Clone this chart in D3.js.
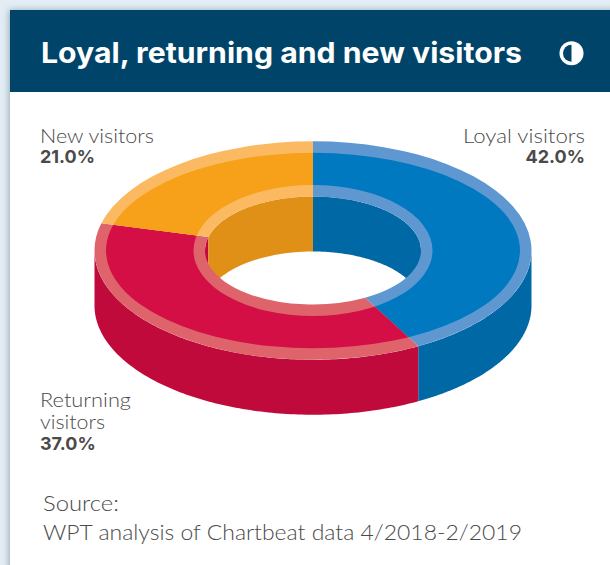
<!DOCTYPE html>
<html><head><meta charset="utf-8">
<script src="https://cdn.jsdelivr.net/npm/d3@7"></script>
<style>
html,body{margin:0;padding:0;background:#e3edf3;overflow:hidden}
svg{display:block}
text{font-family:"Inter","Lato",sans-serif}
.lt{font-family:"Lato","Inter",sans-serif;font-weight:300}
</style></head><body>
<svg id="c" width="610" height="565"></svg>
<script>
const categories = ["Loyal visitors", "Returning visitors", "New visitors"];
const shares = [42.0, 37.0, 21.0];
const topColors = ["#0079c1", "#d30f46", "#f7a11a"];
const wallColors = ["#0069a5", "#bf0a3b", "#e09016"];
const rimColors = ["#5f98d1", "#de636b", "#fbba62"];
const titleText = "Loyal, returning and new visitors";
const sourceLines = ["Source:", "WPT analysis of Chartbeat data 4/2018-2/2019"];

const svg = d3.select("#c");
const defs = svg.append("defs");
const f = defs.append("filter").attr("id","sh").attr("x","-5%").attr("y","-5%").attr("width","110%").attr("height","110%");
f.append("feDropShadow").attr("dx",-1).attr("dy",0).attr("stdDeviation",3).attr("flood-color","#5f7d90").attr("flood-opacity",0.6);

svg.append("rect").attr("x",10).attr("y",10).attr("width",640).attr("height",600).attr("fill","#fff").attr("filter","url(#sh)");
svg.append("rect").attr("x",10).attr("y",10).attr("width",600).attr("height",82).attr("fill","#004569");
svg.append("text").attr("x",41).attr("y",63).attr("fill","#fff").attr("font-size",29).attr("font-weight",700).attr("textLength",481).attr("lengthAdjust","spacingAndGlyphs").text(titleText);

// contrast icon
const icon = svg.append("g").attr("transform","translate(571.5,53.3)");
icon.append("circle").attr("r",12).attr("fill","#fff");
icon.append("path").attr("d",d3.arc()({innerRadius:0,outerRadius:8.5,startAngle:Math.PI,endAngle:2*Math.PI})).attr("fill","#004569");

// geometry of the 3D ring
const cx = 313, cy = 250.5, depth = 55;
const outerR = 218.5, holeR = 108, squash = 0.5;
const rim = 11.5;
const pie = d3.pie().sort(null).value(d=>d)(shares);

const sampleAngles = (a,b) => d3.range(0,121).map(i=>a+(b-a)*i/120);
const wall = (r) => d3.area()
  .x(t=>cx+r*Math.sin(t))
  .y0(t=>cy-r*squash*Math.cos(t))
  .y1(t=>cy-r*squash*Math.cos(t)+depth);

const chart = svg.append("g");
const clamp = (d,lo,hi)=>[Math.max(d.startAngle,lo),Math.min(d.endAngle,hi)];

// outer wall: front half
pie.forEach((d,i)=>{
  const [a,b]=clamp(d,Math.PI/2,3*Math.PI/2);
  if(b>a) chart.append("path").attr("d",wall(outerR)(sampleAngles(a,b))).attr("fill",wallColors[i]);
});
// inner wall: back half of the hole
pie.forEach((d,i)=>{
  [[-Math.PI/2,Math.PI/2],[3*Math.PI/2,5*Math.PI/2]].forEach(([lo,hi])=>{
    const [a,b]=clamp(d,lo,hi);
    if(b>a) chart.append("path").attr("d",wall(holeR)(sampleAngles(a,b))).attr("fill",wallColors[i]);
  });
});

// top surface
const ringArc = d3.arc().innerRadius(holeR).outerRadius(outerR);
const ell = (rx,ry)=>`M${cx-rx},${cy}A${rx},${ry} 0 1 0 ${cx+rx},${cy}A${rx},${ry} 0 1 0 ${cx-rx},${cy}Z`;
pie.forEach((d,i)=>{
  const id="s"+i;
  const dPath=ringArc(d);
  const tf=`translate(${cx},${cy}) scale(1,${squash})`;
  defs.append("clipPath").attr("id",id).append("path").attr("d",dPath).attr("transform",tf);
  chart.append("path").attr("d",dPath).attr("transform",tf).attr("fill",rimColors[i]);
  chart.append("path").attr("clip-path",`url(#${id})`)
    .attr("fill-rule","evenodd").attr("fill",topColors[i])
    .attr("d",ell(outerR-rim,outerR*squash-rim)+ell(holeR+rim,holeR*squash+rim));
});

// labels
const labelGrey="#4a4a4a";
function lightText(g,x,y,size,len,s){
  g.append("text").attr("class","lt").attr("x",x).attr("y",y).attr("font-size",size)
    .attr("textLength",len).attr("lengthAdjust","spacingAndGlyphs").text(s);
}
function label(x,anchor,lines,lens,pct,y0,step){
  const g=svg.append("g").attr("text-anchor",anchor).attr("fill",labelGrey);
  lines.forEach((l,i)=>lightText(g,x,y0+i*step,20,lens[i],l));
  g.append("text").attr("x",x).attr("y",y0+lines.length*step-1).attr("font-size",18).attr("font-weight",700).text(pct);
}
const pct=v=>d3.format(".1f")(v)+"%";
label(585,"end",[categories[0]],[122],pct(shares[0]),142.5,21.5);
label(40,"start",["Returning","visitors"],[91,65],pct(shares[1]),407,22);
label(40,"start",[categories[2]],[114],pct(shares[2]),142.5,21.5);

const gs=svg.append("g").attr("fill",labelGrey);
lightText(gs,43,510.5,22,76,sourceLines[0]);
lightText(gs,43,540,22,479,sourceLines[1]);
</script></body></html>
